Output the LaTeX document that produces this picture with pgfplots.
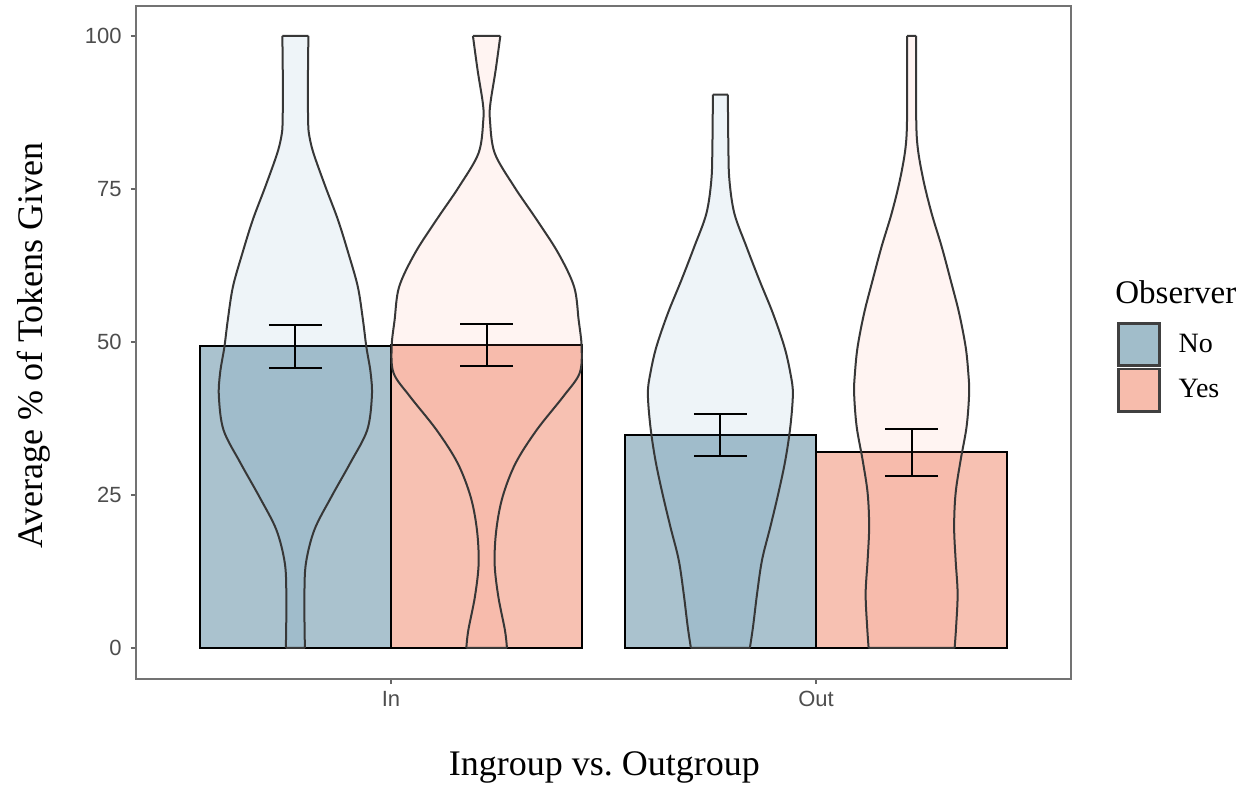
\documentclass[border=0pt]{standalone}
\usepackage{fontspec}
\setmainfont{Liberation Serif}
\newfontfamily\arial{Liberation Sans}
\usepackage{pgfplots}
\usepackage{pgfplotstable}
\pgfplotsset{compat=1.18}

\definecolor{barNo}{RGB}{170,194,206}
\definecolor{barYes}{RGB}{247,193,178}
\definecolor{violNo}{RGB}{70,130,180}
\definecolor{violYes}{RGB}{250,128,114}
\definecolor{keyNo}{RGB}{161,189,202}
\definecolor{keyYes}{RGB}{247,188,172}
\definecolor{violEdge}{RGB}{55,55,55}
\definecolor{tickgray}{RGB}{77,77,77}

% violin outlines: y value, half width (axis units), side (+1 right, -1 left)
% right side up, top edge, left side down, bottom edge; nan rows split the outline
\pgfplotstableread{
y h s
0 0.0224 1
4 0.0215 1
8.4 0.0212 1
13.8 0.0247 1
19.3 0.0447 1
24.7 0.0847 1
30.2 0.129 1
35.6 0.169 1
41.1 0.180 1
45 0.177 1
49.2 0.167 1
53.6 0.159 1
59.0 0.147 1
64.5 0.1247 1
70.0 0.100 1
75.4 0.0706 1
80.9 0.0424 1
84 0.032 1
86.3 0.030 1
91.7 0.0294 1
100 0.0306 1
nan 0 0
100 0.0306 1
100 0.0306 -1
nan 0 0
100 0.0306 -1
91.7 0.0294 -1
86.3 0.030 -1
84 0.032 -1
80.9 0.0424 -1
75.4 0.0706 -1
70.0 0.100 -1
64.5 0.1247 -1
59.0 0.147 -1
53.6 0.159 -1
49.2 0.167 -1
45 0.177 -1
41.1 0.180 -1
35.6 0.169 -1
30.2 0.129 -1
24.7 0.0847 -1
19.3 0.0447 -1
13.8 0.0247 -1
8.4 0.0212 -1
4 0.0215 -1
0 0.0224 -1
nan 0 0
0 0.0224 -1
0 0.0224 1
}\vInNo

\pgfplotstableread{
y h s
0 0.0478 1
2.9 0.0431 1
8.4 0.0275 1
13.8 0.0188 1
19.3 0.0228 1
24.7 0.0376 1
30.2 0.0682 1
35.6 0.1176 1
41.1 0.1805 1
44.9 0.2188 1
49.2 0.2235 1
53.6 0.2165 1
59.0 0.2059 1
64.5 0.1687 1
70.0 0.1176 1
75.4 0.0647 1
80.9 0.0188 1
86.3 0.0078 1
89.0 0.0089 1
94.4 0.0212 1
100 0.0322 1
nan 0 0
100 0.0322 1
100 0.0322 -1
nan 0 0
100 0.0322 -1
94.4 0.0212 -1
89.0 0.0089 -1
86.3 0.0078 -1
80.9 0.0188 -1
75.4 0.0647 -1
70.0 0.1176 -1
64.5 0.1687 -1
59.0 0.2059 -1
53.6 0.2165 -1
49.2 0.2235 -1
44.9 0.2188 -1
41.1 0.1805 -1
35.6 0.1176 -1
30.2 0.0682 -1
24.7 0.0376 -1
19.3 0.0228 -1
13.8 0.0188 -1
8.4 0.0275 -1
2.9 0.0431 -1
0 0.0478 -1
nan 0 0
0 0.0478 -1
0 0.0478 1
}\vInYes

\pgfplotstableread{
y h s
0 0.0694 1
3.5 0.0769 1
8.9 0.0864 1
14.4 0.0981 1
19.8 0.1176 1
25.3 0.1365 1
30.7 0.1529 1
36.2 0.1647 1
41.6 0.1706 1
44.9 0.1647 1
49.2 0.1506 1
54.7 0.1235 1
60.1 0.0918 1
65.6 0.0612 1
71.0 0.0329 1
76.5 0.0212 1
81.9 0.0188 1
90.4 0.0176 1
nan 0 0
90.4 0.0176 1
90.4 0.0176 -1
nan 0 0
90.4 0.0176 -1
81.9 0.0188 -1
76.5 0.0212 -1
71.0 0.0329 -1
65.6 0.0612 -1
60.1 0.0918 -1
54.7 0.1235 -1
49.2 0.1506 -1
44.9 0.1647 -1
41.6 0.1706 -1
36.2 0.1647 -1
30.7 0.1529 -1
25.3 0.1365 -1
19.8 0.1176 -1
14.4 0.0981 -1
8.9 0.0864 -1
3.5 0.0769 -1
0 0.0694 -1
nan 0 0
0 0.0694 -1
0 0.0694 1
}\vOutNo

\pgfplotstableread{
y h s
0 0.1012 1
3.5 0.1047 1
8.9 0.1082 1
14.4 0.1035 1
19.8 0.1000 1
25.3 0.1035 1
30.7 0.1153 1
36.2 0.1294 1
41.6 0.1353 1
44.9 0.1334 1
49.2 0.1271 1
54.7 0.1118 1
60.1 0.0918 1
65.6 0.0706 1
71.0 0.0471 1
76.5 0.0275 1
81.9 0.0141 1
87.4 0.0106 1
100 0.0106 1
nan 0 0
100 0.0106 1
100 0.0106 -1
nan 0 0
100 0.0106 -1
87.4 0.0106 -1
81.9 0.0141 -1
76.5 0.0275 -1
71.0 0.0471 -1
65.6 0.0706 -1
60.1 0.0918 -1
54.7 0.1118 -1
49.2 0.1271 -1
44.9 0.1334 -1
41.6 0.1353 -1
36.2 0.1294 -1
30.7 0.1153 -1
25.3 0.1035 -1
19.8 0.1000 -1
14.4 0.1035 -1
8.9 0.1082 -1
3.5 0.1047 -1
0 0.1012 -1
nan 0 0
0 0.1012 -1
0 0.1012 1
}\vOutYes

\pgfplotsset{
  violinfill/.style={draw=none, fill opacity=0.09, unbounded coords=discard, forget plot},
  violinedge/.style={draw=violEdge, line width=1pt, smooth, tension=0.55, unbounded coords=jump, forget plot},
}

\begin{document}
\begin{tikzpicture}
\path (0,0) rectangle (623.5pt,393pt);
\begin{axis}[
  at={(68pt,53.5pt)}, anchor=south west,
  scale only axis, width=467.5pt, height=336.5pt,
  xmin=0.4, xmax=2.6, ymin=-5.07, ymax=104.9,
  xtick={1,2}, xticklabels={In,Out},
  ytick={0,25,50,75,100},
  tick align=outside, tick pos=left,
  major tick length=2.5pt,
  tick style={draw=black!60, line width=0.6pt},
  axis line style={draw=black!55, line width=0.6pt},
  /pgf/number format/assume math mode=true,
  ticklabel style={font=\arial\fontsize{11}{13}\selectfont, text=tickgray},
  yticklabel style={inner sep=0pt, xshift=-4.5pt},
  xticklabel style={inner sep=0pt, yshift=-3.5pt},
  xlabel={Ingroup vs.\ Outgroup},
  ylabel={Average \% of Tokens Given},
  xlabel style={font=\fontsize{18}{20}\selectfont, at={(axis description cs:0.501,-0.131)}, anchor=center},
  ylabel style={font=\fontsize{18}{20}\selectfont, at={(axis description cs:-0.109,0.4955)}, anchor=center},
  legend style={at={(axis description cs:1.0492,0.5305)}, anchor=north west, draw=none, fill=none,
    inner sep=0pt, outer sep=0pt, row sep=0.4pt, column sep=0pt,
    font=\fontsize{14}{16}\selectfont,
    nodes={inner sep=0pt, outer sep=0pt}},
  legend cell align=left,
  clip=false,
]
% bars
\addplot[ybar, bar width=0.45, bar shift=0pt, fill=barNo, draw=black, line width=1pt, forget plot]
  coordinates {(0.775,49.3) (1.775,34.8)};
\addplot[ybar, bar width=0.45, bar shift=0pt, fill=barYes, draw=black, line width=1pt, forget plot]
  coordinates {(1.225,49.5) (2.225,31.95)};

% violins: fill (polygon) then outline (smooth sides)
\addplot[violinfill, fill=violNo] table[x expr=0.775+\thisrow{s}*\thisrow{h}, y=y] {\vInNo} -- cycle;
\addplot[violinedge] table[x expr=0.775+\thisrow{s}*\thisrow{h}, y=y] {\vInNo};

\addplot[violinfill, fill=violYes] table[x expr=1.225+\thisrow{s}*\thisrow{h}, y=y] {\vInYes} -- cycle;
\addplot[violinedge] table[x expr=1.225+\thisrow{s}*\thisrow{h}, y=y] {\vInYes};

\addplot[violinfill, fill=violNo] table[x expr=1.775+\thisrow{s}*\thisrow{h}, y=y] {\vOutNo} -- cycle;
\addplot[violinedge] table[x expr=1.775+\thisrow{s}*\thisrow{h}, y=y] {\vOutNo};

\addplot[violinfill, fill=violYes] table[x expr=2.225+\thisrow{s}*\thisrow{h}, y=y] {\vOutYes} -- cycle;
\addplot[violinedge] table[x expr=2.225+\thisrow{s}*\thisrow{h}, y=y] {\vOutYes};

% error bars
\addplot[draw=none, mark=none, forget plot,
  error bars/.cd, y dir=both, y explicit,
  error bar style={draw=black, solid, line width=1pt},
  error mark options={rotate=90, draw=black, solid, line width=1pt, mark size=13.25pt}]
  coordinates {
    (0.775,49.3) +- (0,3.5)
    (1.225,49.5) +- (0,3.4)
    (1.775,34.8) +- (0,3.4)
    (2.225,31.95) +- (0,3.85)
  };

% legend
\addlegendimage{legend image code/.code={\draw[fill=keyNo, draw=black!75, line width=1.3pt] (0pt,-10.6pt) rectangle (20.5pt,10.6pt);}}
\addlegendentry{\hspace{9pt}No}
\addlegendimage{legend image code/.code={\draw[fill=keyYes, draw=black!75, line width=1.3pt] (0pt,-10.6pt) rectangle (20.5pt,10.6pt);}}
\addlegendentry{\hspace{9pt}Yes}

\node[anchor=west, inner sep=0pt, font=\fontsize{16.5}{18}\selectfont] at (axis description cs:1.047,0.575) {Observer};
\end{axis}
\end{tikzpicture}
\end{document}
